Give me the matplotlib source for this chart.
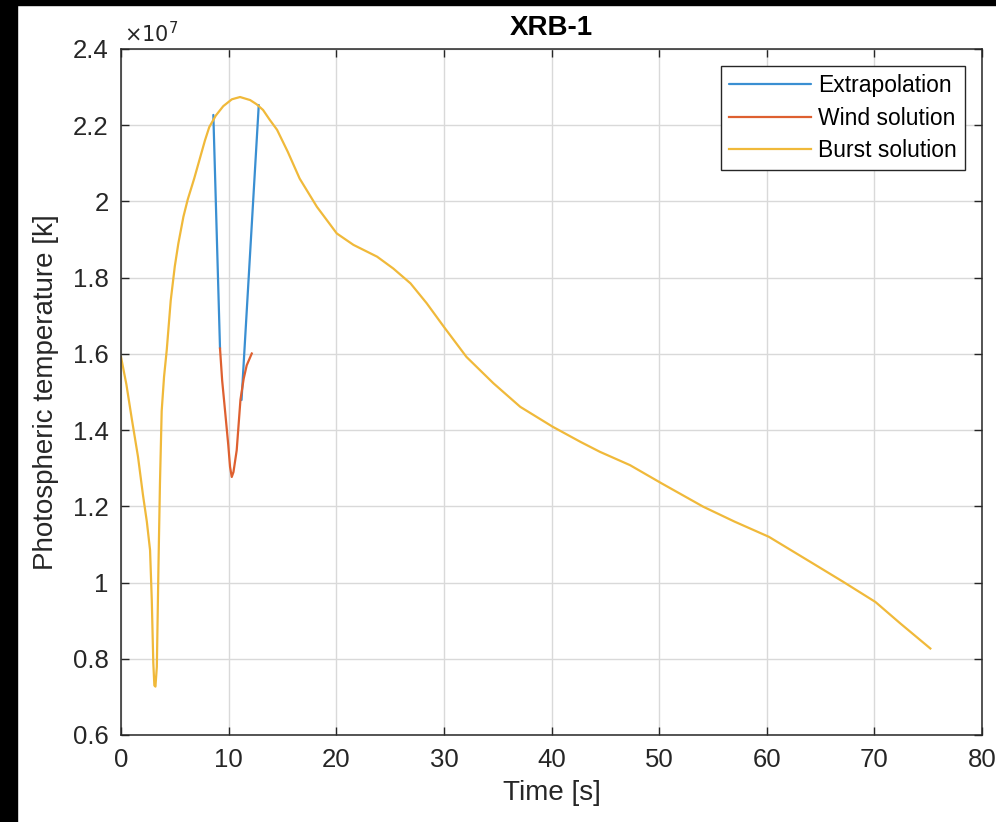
import matplotlib
matplotlib.use("Agg")
import matplotlib.pyplot as plt
from matplotlib.patches import Rectangle
from matplotlib.ticker import FuncFormatter

# ---- data (temperature in units of 1e7 K) ----
extrap_left_t = [8.58, 9.2]
extrap_left_T = [2.227, 1.614]
extrap_right_t = [11.2, 12.8]
extrap_right_T = [1.479, 2.253]

wind_t = [9.2, 9.4, 9.67, 9.97, 10.13, 10.29, 10.45, 10.75, 11.1, 11.4, 11.68, 12.15]
wind_T = [1.614, 1.53, 1.45, 1.36, 1.304, 1.277, 1.29, 1.347, 1.48, 1.535, 1.57, 1.601]

burst_t = [0, 0.5, 1.0, 1.58, 2.04, 2.4, 2.7, 2.86, 3.0, 3.1, 3.2, 3.33, 3.48,
           3.62, 3.78, 4.0, 4.25, 4.62, 5.0, 5.33, 5.8, 6.2, 6.8, 7.3, 7.8, 8.2,
           8.8, 9.5, 10.3, 11.06, 12.0, 12.6, 13.2, 13.8, 14.5, 15.5, 16.6,
           18.2, 20.05, 21.6, 23.8, 25.3, 26.9, 28.4, 30.0, 32.1, 34.6, 37.1,
           40.1, 42.7, 44.5, 47.3, 50.25, 54.1, 57.0, 60.2, 64.3, 67.1, 70.1,
           72.4, 75.2]
burst_T = [1.592, 1.52, 1.43, 1.33, 1.23, 1.16, 1.085, 0.954, 0.79, 0.73,
           0.727, 0.779, 1.041, 1.26, 1.45, 1.54, 1.61, 1.74, 1.83, 1.89,
           1.96, 2.005, 2.06, 2.11, 2.16, 2.195, 2.225, 2.25, 2.268, 2.274,
           2.266, 2.255, 2.24, 2.215, 2.188, 2.13, 2.06, 1.986, 1.916, 1.886,
           1.855, 1.824, 1.785, 1.733, 1.671, 1.592, 1.523, 1.461, 1.409,
           1.369, 1.343, 1.308, 1.26, 1.199, 1.16, 1.12, 1.05, 1.002, 0.949,
           0.893, 0.827]

xticks = [0, 10, 20, 30, 40, 50, 60, 70, 80]
yticks = [0.6, 0.8, 1.0, 1.2, 1.4, 1.6, 1.8, 2.0, 2.2, 2.4]
series_names = ["Extrapolation", "Wind solution", "Burst solution"]

# ---- style ----
plt.rcParams['font.family'] = ['Liberation Sans', 'DejaVu Sans']
c_blue = '#3a8fd2'
c_red = '#de6030'
c_yel = '#f0b93a'
ink = '#262626'

fig = plt.figure(figsize=(9.96, 8.22), dpi=100, facecolor='white')
ax = fig.add_axes([121/996, 1-735/822, (982-121)/996, (735-49)/822])

lw = 1.6
ax.plot(extrap_left_t, extrap_left_T, color=c_blue, lw=lw, label=series_names[0],
        solid_capstyle='round')
ax.plot(extrap_right_t, extrap_right_T, color=c_blue, lw=lw, solid_capstyle='round')
ax.plot(wind_t, wind_T, color=c_red, lw=lw, label=series_names[1],
        solid_joinstyle='round')
ax.plot(burst_t, burst_T, color=c_yel, lw=lw, label=series_names[2],
        solid_joinstyle='round')

ax.set_xlim(0, 80)
ax.set_ylim(0.6, 2.4)
ax.set_xticks(xticks)
ax.set_yticks(yticks)
ax.yaxis.set_major_formatter(FuncFormatter(lambda v, p: f"{v:g}"))
ax.grid(True, color='#d9d9d9', lw=1.0)
ax.set_axisbelow(True)
ax.tick_params(direction='in', length=6, width=1.0, colors=ink, labelsize=18.5,
               top=True, right=True, pad=9)
for s in ax.spines.values():
    s.set_color(ink)
    s.set_linewidth(1.1)

ax.set_xlabel("Time [s]", fontsize=20, color=ink, labelpad=6)
ax.set_ylabel("Photospheric temperature [k]", fontsize=20, color=ink, labelpad=10)
ax.set_title("XRB-1", fontsize=20, fontweight='bold', color='black', pad=10)
ax.text(0.004, 1.004, r"$\times10^{7}$", transform=ax.transAxes, fontsize=15,
        color=ink, ha='left', va='bottom')

leg = ax.legend(loc='upper right', fontsize=16.5, frameon=True, fancybox=False,
                edgecolor=ink, framealpha=1, handlelength=3.6, handletextpad=0.3,
                borderpad=0.35, labelspacing=0.42, borderaxespad=0.75)
leg.get_frame().set_linewidth(1.0)

# black backdrop strips at image edges
fig.patches.append(Rectangle((0, 0), 17/996, 1, transform=fig.transFigure,
                             color='black', zorder=-1))
fig.patches.append(Rectangle((0, 1-5/822), 1, 5/822, transform=fig.transFigure,
                             color='black', zorder=-1))

fig.savefig("out.png", dpi=100, facecolor='white')
